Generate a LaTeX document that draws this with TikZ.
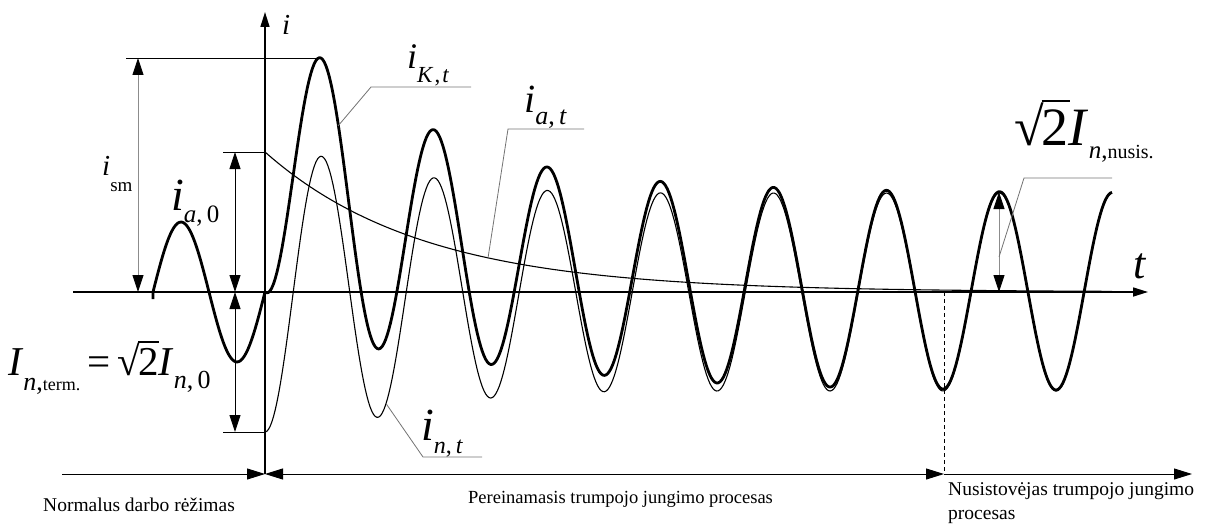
\documentclass[tikz,border=0pt]{standalone}
\usepackage{fontspec}
\setmainfont{Liberation Serif}
\usetikzlibrary{arrows.meta}

% raide su nuleistu indeksu: dydis, raide, nuleidimas, indekso dydis, indeksas
\newcommand{\zenklas}[5]{{\fontsize{#1}{#1}\selectfont #2}\raisebox{-#3}{\fontsize{#4}{#4}\selectfont #5}}
% kvadratine saknis is teksto simbolio ir bruksnio
\newcommand{\saknis}[1]{√\kern-0.04em\rlap{\rule[0.79em]{0.52em}{0.045em}}#1}

\begin{document}
\begin{tikzpicture}[x=1pt, y=-1pt,
  asis/.style={draw=black, line width=1.6pt, -{Triangle[length=15pt,width=9pt]}},
  matmuo/.style={draw=black, line width=0.9pt,
                 {Triangle[length=17pt,width=11pt,color=black]}-{Triangle[length=17pt,width=11pt,color=black]}},
  matpilkas/.style={matmuo, draw=black!45},
  pagalb/.style={draw=black, line width=0.8pt},
  vedlys/.style={draw=black!55, line width=0.8pt},
  storas/.style={draw=black, line width=2.8pt, line join=round},
  plonas/.style={draw=black, line width=1.1pt, line join=round},
  rodykle/.style={draw=black, line width=1pt, -{Triangle[length=18pt,width=11pt]}},
  rodykle2/.style={draw=black, line width=1pt,
                   {Triangle[length=18pt,width=11pt]}-{Triangle[length=18pt,width=11pt]}},
  uzrasas/.style={inner sep=0pt, anchor=base west},
  tekstas/.style={inner sep=0pt, font=\fontsize{19.5}{24}\selectfont}
]
\useasboundingbox (0,0) rectangle (1210,527);

%--------------------------------------------------------------
% Asys ir laiko tarpai
%--------------------------------------------------------------
\coordinate (O) at (265,292);
\coordinate (tpradzia) at (73,292);
\coordinate (tgalas) at (1148,292);
\coordinate (iapacia) at (265,474);
\coordinate (ivirsus) at (265,12);
\coordinate (apL) at (62,474);
\coordinate (apS) at (944,474);
\coordinate (apR) at (1192,474);
\coordinate (nusist) at (944,292);

\draw[asis] (tpradzia) -- (tgalas);
\draw[asis] (iapacia) -- (ivirsus);
\node[uzrasas] (Li) at (282,35) {\fontsize{29}{29}\selectfont\textit{i}};
\node[uzrasas] (Lt) at (1133,278) {\fontsize{44}{44}\selectfont\textit{t}};

\draw[rodykle] (apL) -- (iapacia);
\draw[rodykle2] (iapacia) -- (apS);
\draw[rodykle] (apS) -- (apR);
\draw[pagalb, dash pattern=on 4pt off 3pt] (nusist) -- (apS);

\node[tekstas, anchor=base west] (Lnormal) at (43,511) {Normalus darbo rėžimas};
\node[tekstas, anchor=base west, font=\fontsize{18.5}{24}\selectfont] (Lperein) at (468,503)
  {Pereinamasis trumpojo jungimo procesas};
\node[tekstas, anchor=north west, align=left] (Lnusist) at (948,482)
  {Nusistovėjas trumpojo jungimo\\ procesas};

%--------------------------------------------------------------
% Sroves kreives
%--------------------------------------------------------------
% aperiodine dedamoji
\draw[plonas] (265,152) -- plot[domain=3:847, samples=160]
  ({265+\x},{292-140*exp(-\x/158)});
% periodine dedamoji
\draw[plonas] plot[domain=0:847, samples=500]
  ({265+\x},{292+(99+41*exp(-1*(\x/170)*(\x/170)))*cos(\x*3.18584)});
% pilnoji srove
\draw[storas] (153,299) -- (153,292)
  -- plot[domain=0:112, samples=60] ({153+\x},{292-70*sin(\x*3.2143)})
  -- plot[domain=0:847, samples=500]
  ({265+\x},{292-140*exp(-\x/158)+(99+41*exp(-1*(\x/170)*(\x/170)))*cos(\x*3.18584)});

%--------------------------------------------------------------
% Matmenys
%--------------------------------------------------------------
\coordinate (smA) at (138,292);
\coordinate (smV) at (138,58);
\coordinate (smK) at (126,58);
\coordinate (pikas) at (319,58);
\draw[pagalb] (smK) -- (pikas);
\draw[matpilkas] (smA) -- (smV);
\node[uzrasas] (Lism) at (102,175) {\zenklas{29}{\textit{i}}{16pt}{19}{sm}};

\coordinate (a0A) at (235,292);
\coordinate (a0V) at (235,152);
\coordinate (a0K) at (223,152);
\coordinate (a0O) at (265,152);
\draw[pagalb] (a0K) -- (a0O);
\draw[matmuo] (a0A) -- (a0V);
\node[uzrasas] (Lia0) at (171,210) {\zenklas{46}{\textit{i}}{12pt}{25}{\textit{a},\,0}};

\coordinate (n0A) at (235,432);
\coordinate (n0K) at (223,432);
\coordinate (n0O) at (265,432);
\draw[pagalb] (n0K) -- (n0O);
\draw[matmuo] (a0A) -- (n0A);
\node[uzrasas] (Lnterm) at (8,375)
  {\zenklas{41}{\textit{I}}{15pt}{26}{\textit{n},{\fontsize{18}{18}\selectfont term.}}%
   {\fontsize{41}{41}\selectfont\,=\,\saknis{2}}%
   \zenklas{41}{\textit{I}}{13pt}{26}{\textit{n},\,0}};

\coordinate (nuA) at (999,292);
\coordinate (nuV) at (999,192);
\draw[matpilkas] (nuA) -- (nuV);
\node[uzrasas] (Lnusis) at (1014,145)
  {\zenklas{54}{\saknis{2}\textit{I}}{13pt}{25}{\textit{n},{\fontsize{20}{20}\selectfont nusis.}}};

%--------------------------------------------------------------
% Kreiviu zymes su nuorodomis
%--------------------------------------------------------------
\coordinate (iKt) at (338,126);
\coordinate (iKl) at (371,87);
\coordinate (iKg) at (471,87);
\draw[vedlys] (iKt) -- (iKl) -- (iKg);
\node[uzrasas] (LiK) at (407,68) {\zenklas{36}{\textit{i}}{14pt}{23}{\textit{K}\kern1pt,\kern2pt\textit{t}}};

\coordinate (iat) at (488,258);
\coordinate (ial) at (508,129);
\coordinate (iag) at (584,129);
\draw[vedlys] (iat) -- (ial) -- (iag);
\node[uzrasas] (Lia) at (524,112) {\zenklas{40}{\textit{i}}{13pt}{26}{\textit{a},\,\textit{t}}};

\coordinate (int) at (386,403.5);
\coordinate (inl) at (423,457);
\coordinate (ing) at (482,457);
\draw[vedlys] (int) -- (inl) -- (ing);
\node[uzrasas] (Lin) at (421,440) {\zenklas{46}{\textit{i}}{13pt}{24}{\textit{n},\,\textit{t}}};

\coordinate (nut) at (999,257);
\coordinate (nul) at (1024,178);
\coordinate (nug) at (1112,178);
\draw[vedlys] (nut) -- (nul) -- (nug);

\end{tikzpicture}
\end{document}
